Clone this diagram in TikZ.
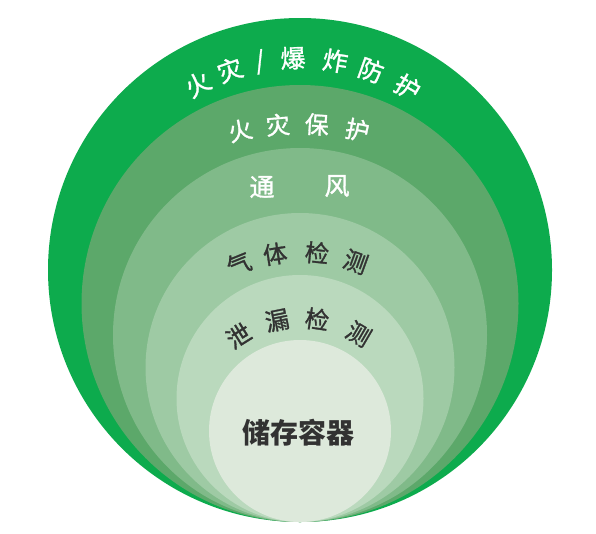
\documentclass[tikz,border=0pt]{standalone}
\usepackage{fontspec}
\newfontfamily\cjk[FakeBold=1.2]{Noto Sans CJK SC}
\newfontfamily\cjkb{Noto Sans CJK SC}
\usetikzlibrary{calc}
\definecolor{ringA}{RGB}{13,171,77}
\definecolor{ringB}{RGB}{92,168,106}
\definecolor{ringC}{RGB}{128,186,137}
\definecolor{ringD}{RGB}{158,202,164}
\definecolor{ringE}{RGB}{186,217,189}
\definecolor{ringF}{RGB}{221,233,219}
\definecolor{txtgrey}{RGB}{50,50,50}
\begin{document}
\begin{tikzpicture}[x=1pt,y=-1pt,
  wch/.style={text=white,font=\cjk\fontsize{25}{25}\selectfont,inner sep=0pt},
  gch/.style={text=txtgrey,font=\cjk\fontsize{24}{24}\selectfont,inner sep=0pt},
  core/.style={text=txtgrey,font=\cjkb\bfseries\fontsize{28}{28}\selectfont,inner sep=0pt}]
\useasboundingbox (0,0) rectangle (596,533);
\fill[white] (0,0) rectangle (596,533);
% nested circles, all tangent at bottom
\fill[ringA] (300,270) circle[radius=252pt];
\fill[ringB] (300,303.5) circle[radius=218.5pt];
\fill[ringC] (300,335) circle[radius=187pt];
\fill[ringD] (300,367.5) circle[radius=154.5pt];
\fill[ringE] (300,398.5) circle[radius=123.5pt];
\fill[ringF] (300,431) circle[radius=91pt];
% line 1
\foreach \ch/\a [count=\i] in {火/118.8,灾/109.3}
  \node[wch,rotate=\a-90] (la\i) at ($(300,270)+(\a:212pt)$) {\ch};
\node[wch,rotate=11] (lslash) at ($(300,270)+(100.9:212pt)$) {/};
\foreach \ch/\a [count=\i] in {爆/91.9,炸/80.4,防/70.4,护/59.5}
  \node[wch,rotate=\a-90] (lb\i) at ($(300,270)+(\a:212pt)$) {\ch};
% line 2
\foreach \ch/\a [count=\i] in {火/102.5,灾/94.6,保/86.5,护/78}
  \node[wch,font=\cjk\fontsize{24}{24}\selectfont,rotate=\a-90] (lc\i) at ($(300,400)+(\a:276pt)$) {\ch};
% line 3
\node[wch] (ld1) at (262,187) {通};
\node[wch] (ld2) at (337,186) {风};
% line 4
\foreach \ch/\a [count=\i] in {气/112,体/98.8,检/84,测/70}
  \node[gch,rotate=\a-90] (le\i) at ($(300,415)+(\a:163pt)$) {\ch};
% line 5
\foreach \ch/\a [count=\i] in {泄/122,漏/101.4,检/81.5,测/59.6}
  \node[gch,rotate=\a-90] (lf\i) at ($(300,434)+(\a:116pt)$) {\ch};
% core
\node[core] (store) at (298,433) {储存容器};
\end{tikzpicture}
\end{document}
